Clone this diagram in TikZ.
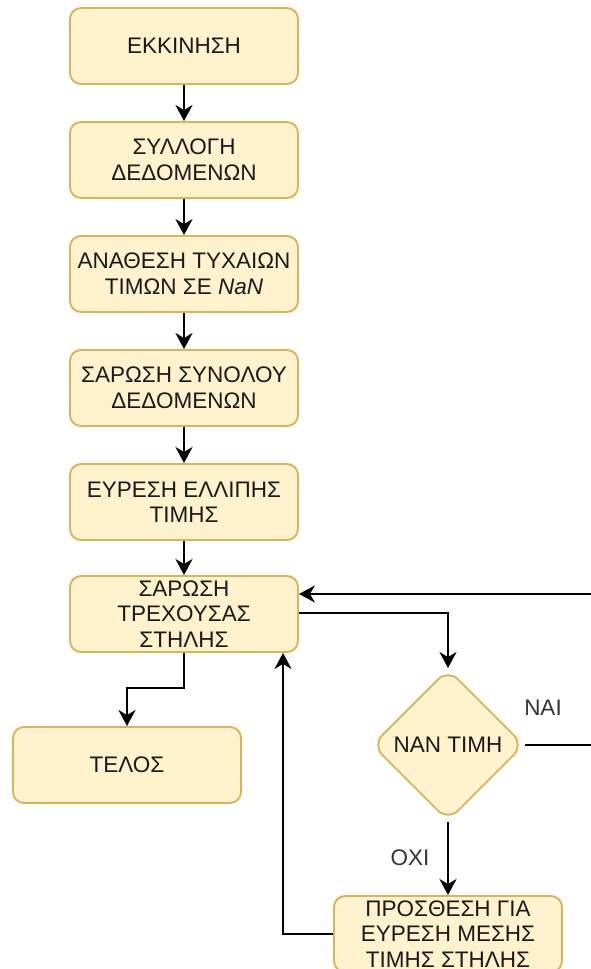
\documentclass[tikz,border=0pt]{standalone}
\usepackage{fontspec}
\setmainfont{Liberation Sans}
\usetikzlibrary{arrows.meta,shapes.geometric}
\definecolor{boxfill}{HTML}{FFF2CC}
\definecolor{boxline}{HTML}{D6B656}
\definecolor{ink}{HTML}{1A1A1A}
\definecolor{labelink}{HTML}{333333}
\tikzset{
  stepbox/.style={draw=boxline, fill=boxfill, line width=1.9pt, rounded corners=11pt,
    minimum width=228pt, minimum height=76pt, inner sep=0pt, align=center,
    text=ink, font=\fontsize{22.5}{25.5}\selectfont},
  testbox/.style={diamond, aspect=1, draw=boxline, fill=boxfill, line width=1.9pt,
    rounded corners=14pt, minimum width=152pt, minimum height=152pt, inner sep=0pt,
    text=ink, font=\fontsize{22.5}{25.5}\selectfont},
  flow/.style={draw=black, line width=2pt, -{Stealth[length=16pt,width=17pt,inset=5pt]}},
  plain/.style={draw=black, line width=2pt},
  edgelabel/.style={text=labelink, font=\fontsize{22.5}{25.5}\selectfont, inner sep=0pt}
}
\begin{document}
\begin{tikzpicture}[x=1pt, y=-1pt]
  \useasboundingbox (0,0) rectangle (590,969);

  % main column of steps
  \node[stepbox] (start)   at (184,46)  {ΕΚΚΙΝΗΣΗ};
  \node[stepbox] (collect) at (184,160) {ΣΥΛΛΟΓΗ\\ΔΕΔΟΜΕΝΩΝ};
  \node[stepbox] (assign)  at (184,274) {ΑΝΑΘΕΣΗ ΤΥΧΑΙΩΝ\\ΤΙΜΩΝ ΣΕ \textit{NaN}};
  \node[stepbox] (scanset) at (184,388) {ΣΑΡΩΣΗ ΣΥΝΟΛΟΥ\\ΔΕΔΟΜΕΝΩΝ};
  \node[stepbox] (findgap) at (184,502) {ΕΥΡΕΣΗ ΕΛΛΙΠΗΣ\\ΤΙΜΗΣ};
  \node[stepbox] (scancol) at (184,614) {ΣΑΡΩΣΗ\\ΤΡΕΧΟΥΣΑΣ\\ΣΤΗΛΗΣ};

  % end, test and mean-value step
  \node[stepbox] (finish)  at (127,765) {ΤΕΛΟΣ};
  \node[testbox] (isnan)   at (448,745) {ΝΑΝ ΤΙΜΗ};
  \node[stepbox] (addmean) at (448,934) {ΠΡΟΣΘΕΣΗ ΓΙΑ\\ΕΥΡΕΣΗ ΜΕΣΗΣ\\ΤΙΜΗΣ ΣΤΗΛΗΣ};

  % loop exit to the right of the page
  \coordinate (rightout) at (610,745);

  % straight chain
  \draw[flow] (start) -- (collect);
  \draw[flow] (collect) -- (assign);
  \draw[flow] (assign) -- (scanset);
  \draw[flow] (scanset) -- (findgap);
  \draw[flow] (findgap) -- (scancol);

  % column scan to test and to end
  \draw[flow] ([yshift=1pt]scancol.east) -| (isnan.north);
  \draw[flow] (scancol.south) -- ++(0,35) -| (finish.north);

  % yes branch goes back to the scan
  \draw[plain] (isnan.east) -- (rightout);
  \draw[flow] (rightout) |- ([yshift=20pt]scancol.east);
  \node[edgelabel] (yes) at (543,708) {ΝΑΙ};

  % no branch
  \draw[flow] (isnan.south) -- (addmean.north);
  \node[edgelabel] (no) at (410,858) {ΟΧΙ};
  \draw[flow] (addmean.west) -| ([xshift=99pt]scancol.south);
\end{tikzpicture}
\end{document}
